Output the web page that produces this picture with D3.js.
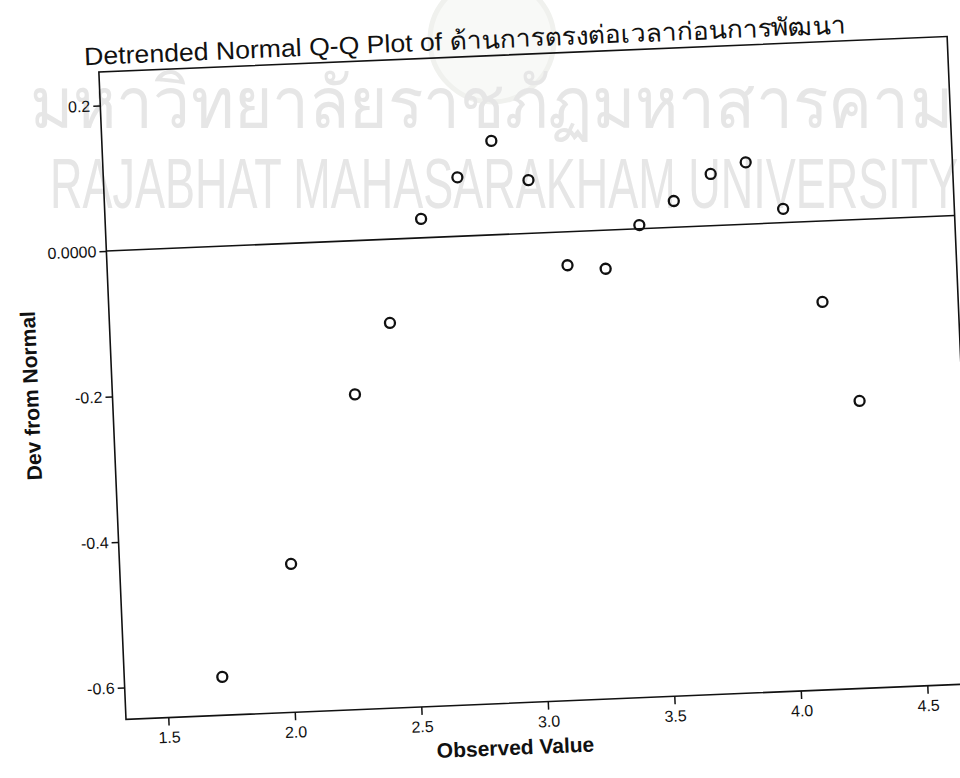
<!DOCTYPE html>
<html>
<head>
<meta charset="utf-8">
<script src="https://cdn.jsdelivr.net/npm/d3@7"></script>
<style>
  html, body { margin: 0; padding: 0; background: #fff; }
  svg { display: block; }
  text { font-family: "Liberation Sans", Arial, sans-serif; }
</style>
</head>
<body>
<svg id="chart" width="960" height="778"></svg>
<script>
// ---- data ----
const observed = [1.72, 2.01, 2.29, 2.44, 2.58, 2.73, 2.87, 3.01, 3.15, 3.30, 3.44, 3.58, 3.73, 3.87, 4.01, 4.15, 4.28];
const devFromNormal = [-0.591, -0.440, -0.211, -0.115, 0.026, 0.081, 0.129, 0.073, -0.046, -0.053, 0.005, 0.036, 0.071, 0.085, 0.019, -0.111, -0.249];
const xTicks = [1.5, 2.0, 2.5, 3.0, 3.5, 4.0, 4.5];
const xTickLabels = ["1.5", "2.0", "2.5", "3.0", "3.5", "4.0", "4.5"];
const yTicks = [0.2, 0, -0.2, -0.4, -0.6];
const yTickLabels = ["0.2", "0.0000", "-0.2", "-0.4", "-0.6"];
const titleText = "Detrended Normal Q-Q Plot of ด้านการตรงต่อเวลาก่อนการพัฒนา";
const xTitle = "Observed Value";
const yTitle = "Dev from Normal";
const watermarkThai = "มหาวิทยาลัยราชภัฏมหาสารคาม";
const watermarkEn = "RAJABHAT MAHASARAKHAM UNIVERSITY";

// ---- layout ----
const svg = d3.select("#chart");
svg.append("rect").attr("width", 960).attr("height", 778).attr("fill", "#fff");

// watermark (flat, behind the scanned chart)
const wm = svg.append("g").attr("fill", "#e6e6e6");
wm.append("circle").attr("cx", 492).attr("cy", 40).attr("r", 62)
  .attr("fill", "#f8f9f7").attr("stroke", "#f0f1ee").attr("stroke-width", 5);
wm.append("text").attr("transform", "translate(30,128) scale(1,1.09)")
  .attr("font-size", 66)
  .text(watermarkThai);
wm.append("text").attr("transform", "translate(50,208) scale(1,1.58)")
  .attr("font-size", 45)
  .text(watermarkEn);

const frame = { left: 126, right: 975, top: 71.5, bottom: 719.3 };

// whole scanned chart is tilted slightly
const g = svg.append("g").attr("transform", `rotate(-2.4 ${frame.left} ${frame.bottom})`);

const x = d3.scaleLinear().domain([1.5, 4.5]).range([168.3, 928]);
const y = d3.scaleLinear().domain([0.2, -0.6]).range([105, 687.5]);

// frame
g.append("rect")
  .attr("x", frame.left).attr("y", frame.top)
  .attr("width", frame.right - frame.left).attr("height", frame.bottom - frame.top)
  .attr("fill", "none").attr("stroke", "#111").attr("stroke-width", 1.6);

// reference line at 0
g.append("line")
  .attr("x1", frame.left).attr("x2", frame.right)
  .attr("y1", y(0)).attr("y2", y(0))
  .attr("stroke", "#111").attr("stroke-width", 1.6);

// axes
const xAxis = g.append("g").attr("transform", `translate(0,${frame.bottom})`)
  .call(d3.axisBottom(x).tickValues(xTicks).tickFormat((d, i) => xTickLabels[i]).tickSize(8).tickPadding(6));
const yAxis = g.append("g").attr("transform", `translate(${frame.left},0)`)
  .call(d3.axisLeft(y).tickValues(yTicks).tickFormat((d, i) => yTickLabels[i]).tickSize(7).tickPadding(3));
[xAxis, yAxis].forEach(a => {
  a.select(".domain").remove();
  a.selectAll(".tick line").attr("stroke", "#111").attr("stroke-width", 1.5);
  a.selectAll(".tick text").attr("fill", "#111").attr("font-size", 16)
    .attr("font-family", "'Liberation Sans', Arial, sans-serif");
});

// points
g.append("g").selectAll("circle")
  .data(observed.map((v, i) => [v, devFromNormal[i]]))
  .join("circle")
  .attr("cx", d => x(d[0]))
  .attr("cy", d => y(d[1]))
  .attr("r", 5)
  .attr("fill", "none").attr("stroke", "#111").attr("stroke-width", 2.3);

// titles
g.append("text").attr("x", 112).attr("y", 64)
  .attr("font-size", 25).attr("fill", "#111")
  .attr("textLength", 762).attr("lengthAdjust", "spacingAndGlyphs")
  .text(titleText);

g.append("text").attr("x", 514).attr("y", 771)
  .attr("text-anchor", "middle").attr("font-size", 21).attr("font-weight", "bold").attr("fill", "#111")
  .text(xTitle);

g.append("text").attr("transform", "translate(52,392) rotate(-90)")
  .attr("text-anchor", "middle").attr("font-size", 21).attr("font-weight", "bold").attr("fill", "#111")
  .text(yTitle);
</script>
</body>
</html>
